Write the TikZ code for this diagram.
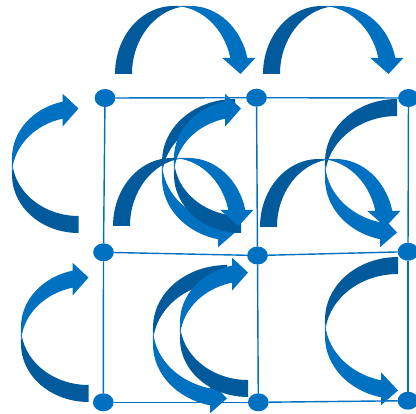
\documentclass[tikz,border=0pt]{standalone}
\usetikzlibrary{shapes.geometric}
\definecolor{front}{HTML}{0070C0}
\definecolor{back}{HTML}{005A9C}
\definecolor{gridc}{HTML}{0070C0}
\pgfdeclarelayer{bg}
\pgfsetlayers{bg,main}
% ribbon curved arrow (curved-down form): #1 width, #2 height, #3 shaft, #4 head width, #5 head length
\newcommand{\ribbonarrow}[5]{%
  \pgfmathsetmacro{\rW}{#1}%
  \pgfmathsetmacro{\rH}{#2}%
  \pgfmathsetmacro{\rTh}{#3}%
  \pgfmathsetmacro{\rAw}{#4}%
  \pgfmathsetmacro{\rAh}{#5}%
  \pgfmathsetmacro{\rwR}{\rW/2-(\rTh+\rAw)/4}%
  \pgfmathsetmacro{\rxc}{\rwR+\rTh}%
  \pgfmathsetmacro{\rdx}{\rwR*sqrt(1-(\rAh/\rH)^2)}%
  \pgfmathsetmacro{\rxv}{\rwR+\rdx}%
  \pgfmathsetmacro{\rxvii}{\rxc+\rdx}%
  \pgfmathsetmacro{\rdh}{(\rAw-\rTh)/2}%
  \pgfmathsetmacro{\rxiv}{\rxv-\rdh}%
  \pgfmathsetmacro{\rxviii}{\rxvii+\rdh}%
  \pgfmathsetmacro{\rxvi}{\rW-\rAw/2}%
  \pgfmathsetmacro{\ryi}{\rH-\rAh}%
  \pgfmathsetmacro{\rtA}{-asin(\rAh/\rH)}%
  \pgfmathsetmacro{\ral}{acos(\rTh/(2*\rwR))}%
  \pgfmathsetmacro{\rix}{\rwR+\rTh/2}%
  \pgfmathsetmacro{\riy}{\rH-\rH*sin(\ral)}%
  \pgfmathsetmacro{\rsA}{-180+\ral}%
  \pgfmathsetmacro{\reA}{-\ral}%
  \fill[back] (\rix,\riy) arc[start angle=\rsA, end angle=-180, x radius=\rwR, y radius=\rH]
     -- (0,\rH) arc[start angle=-180, end angle=\reA, x radius=\rwR, y radius=\rH] -- cycle;
  \fill[front] (\rxvi,\rH) -- (\rxiv,\ryi) -- (\rxv,\ryi)
     arc[start angle=\rtA, end angle=-90, x radius=\rwR, y radius=\rH]
     -- (\rxc,0) arc[start angle=-90, end angle=\rtA, x radius=\rwR, y radius=\rH]
     -- (\rxviii,\ryi) -- cycle;
}
\tikzset{
  dot/.style={ellipse, fill=front, minimum width=20.7pt, minimum height=18pt, inner sep=0pt, outer sep=0pt},
  gridline/.style={draw=gridc, line width=1.4pt},
  downarr/.style={shift={#1}},
  rightarr/.style={shift={#1}, rotate=90},
  fliparr/.style={shift={#1}, yscale=-1, rotate=90}
}
\begin{document}
\begin{tikzpicture}[x=1pt,y=-1pt]
\useasboundingbox (0,0) rectangle (416,414);
\clip (0,0) rectangle (416,414);
% nodes
\node[dot] (n00) at (105,98) {};
\node[dot] (n01) at (256.5,97.7) {};
\node[dot] (n02) at (408.5,98) {};
\node[dot] (n10) at (103.5,252.3) {};
\node[dot] (n11) at (257.5,255.5) {};
\node[dot] (n12) at (408,251.7) {};
\node[dot] (n20) at (103.3,402.3) {};
\node[dot] (n21) at (258.3,402.3) {};
\node[dot] (n22) at (408,400.7) {};
\begin{pgfonlayer}{bg}
% grid
\draw[gridline] (n00) -- (n01); \draw[gridline] (n01) -- (n02);
\draw[gridline] (n10) -- (n11); \draw[gridline] (n11) -- (n12);
\draw[gridline] (n20) -- (n21); \draw[gridline] (n21) -- (n22);
\draw[gridline] (n00) -- (n10); \draw[gridline] (n10) -- (n20);
\draw[gridline] (n01) -- (n11); \draw[gridline] (n11) -- (n21);
\draw[gridline] (n02) -- (n12); \draw[gridline] (n12) -- (n22);
% arrows over the top row
\begin{scope}[downarr={(115,6)}] \ribbonarrow{142}{68}{17}{33}{16} \end{scope}
\begin{scope}[downarr={(263,6)}] \ribbonarrow{142}{68}{17}{33}{16} \end{scope}
% arrows left of the first column
\begin{scope}[rightarr={(12,233)}] \ribbonarrow{141}{66.5}{17}{33}{16} \end{scope}
\begin{scope}[rightarr={(21,402)}] \ribbonarrow{141}{67.5}{17}{33}{16} \end{scope}
% cell arrows
\begin{scope}[fliparr={(162,99)}] \ribbonarrow{150}{73}{17}{33}{17} \end{scope}
\begin{scope}[rightarr={(174,233)}] \ribbonarrow{141}{67}{17}{33}{16} \end{scope}
\begin{scope}[downarr={(113,158)}] \ribbonarrow{142}{68}{17}{33}{16} \end{scope}
\begin{scope}[fliparr={(325,99)}] \ribbonarrow{150}{72}{17}{33}{17} \end{scope}
\begin{scope}[downarr={(260,159)}] \ribbonarrow{142}{68}{17}{33}{16} \end{scope}
\begin{scope}[fliparr={(153,265)}] \ribbonarrow{150}{74}{17}{33}{17} \end{scope}
\begin{scope}[rightarr={(180,397)}] \ribbonarrow{141}{68}{17}{33}{16} \end{scope}
\begin{scope}[fliparr={(325,257)}] \ribbonarrow{150}{73}{17}{33}{17} \end{scope}
\end{pgfonlayer}
\end{tikzpicture}
\end{document}
